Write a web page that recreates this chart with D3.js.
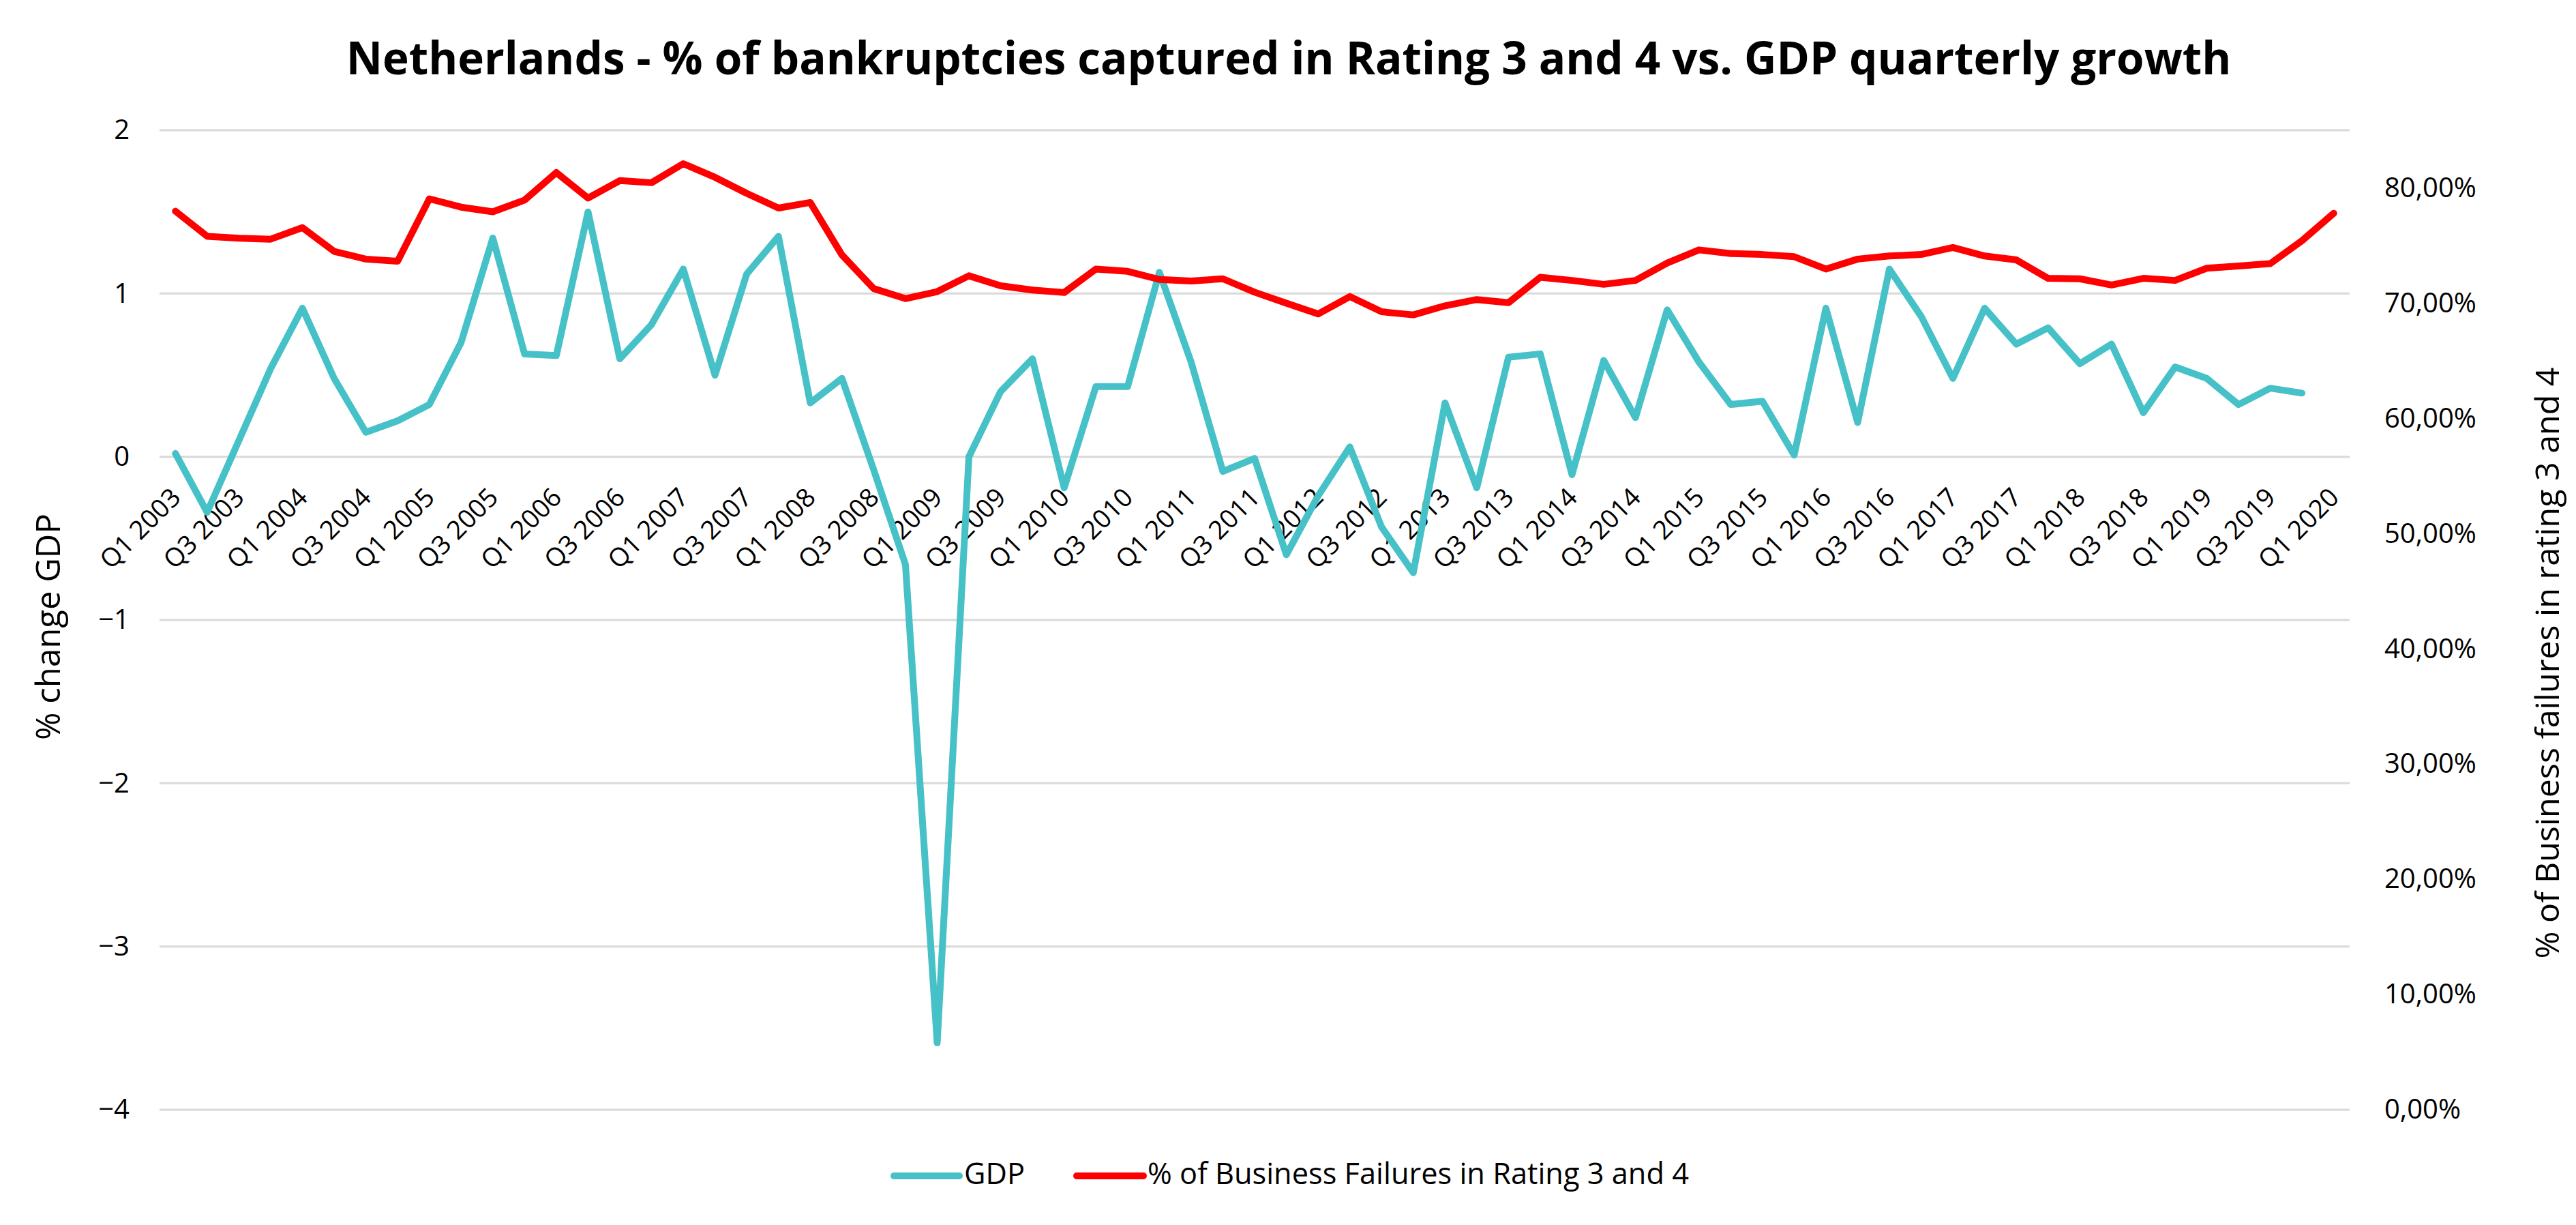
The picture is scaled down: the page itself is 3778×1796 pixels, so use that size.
<!DOCTYPE html>
<html>
<head>
<meta charset="utf-8">
<script src="https://cdn.jsdelivr.net/npm/d3@7"></script>
<style>
  html, body { margin: 0; padding: 0; background: #ffffff; }
  svg { display: block; }
  text { font-family: "Open Sans", "Noto Sans", sans-serif; fill: #000; }
</style>
</head>
<body>
<svg id="chart" width="3778" height="1796"></svg>
<script>
const categories = [
  "Q1 2003","Q2 2003","Q3 2003","Q4 2003","Q1 2004","Q2 2004","Q3 2004","Q4 2004",
  "Q1 2005","Q2 2005","Q3 2005","Q4 2005","Q1 2006","Q2 2006","Q3 2006","Q4 2006",
  "Q1 2007","Q2 2007","Q3 2007","Q4 2007","Q1 2008","Q2 2008","Q3 2008","Q4 2008",
  "Q1 2009","Q2 2009","Q3 2009","Q4 2009","Q1 2010","Q2 2010","Q3 2010","Q4 2010",
  "Q1 2011","Q2 2011","Q3 2011","Q4 2011","Q1 2012","Q2 2012","Q3 2012","Q4 2012",
  "Q1 2013","Q2 2013","Q3 2013","Q4 2013","Q1 2014","Q2 2014","Q3 2014","Q4 2014",
  "Q1 2015","Q2 2015","Q3 2015","Q4 2015","Q1 2016","Q2 2016","Q3 2016","Q4 2016",
  "Q1 2017","Q2 2017","Q3 2017","Q4 2017","Q1 2018","Q2 2018","Q3 2018","Q4 2018",
  "Q1 2019","Q2 2019","Q3 2019","Q4 2019","Q1 2020"
];

// GDP quarterly growth (%), Q1 2003 .. Q4 2019
const gdp = [
  0.02, -0.34, 0.10, 0.54, 0.91, 0.48, 0.15, 0.22,
  0.32, 0.70, 1.34, 0.63, 0.62, 1.50, 0.60, 0.81,
  1.15, 0.50, 1.12, 1.35, 0.33, 0.48, -0.08, -0.66,
  -3.59, 0.00, 0.40, 0.60, -0.19, 0.43, 0.43, 1.13,
  0.58, -0.09, -0.01, -0.60, -0.24, 0.06, -0.43, -0.71,
  0.33, -0.19, 0.61, 0.63, -0.11, 0.59, 0.24, 0.90,
  0.58, 0.32, 0.34, 0.01, 0.91, 0.21, 1.15, 0.86,
  0.48, 0.91, 0.69, 0.79, 0.57, 0.69, 0.27, 0.55,
  0.48, 0.32, 0.42, 0.39
];

// % of Business Failures in Rating 3 and 4 (%), Q1 2003 .. Q1 2020
const failures = [
  77.98, 75.80, 75.63, 75.55, 76.55, 74.49, 73.82, 73.64,
  79.05, 78.33, 77.93, 78.94, 81.33, 79.12, 80.63, 80.45,
  82.10, 80.92, 79.52, 78.25, 78.73, 74.18, 71.26, 70.39,
  71.00, 72.37, 71.50, 71.13, 70.92, 72.96, 72.76, 72.05,
  71.92, 72.11, 70.95, 70.00, 69.06, 70.57, 69.25, 68.98,
  69.77, 70.31, 70.04, 72.24, 71.97, 71.63, 71.97, 73.48,
  74.62, 74.30, 74.22, 74.03, 72.96, 73.82, 74.09, 74.22,
  74.83, 74.09, 73.75, 72.15, 72.11, 71.57, 72.15, 71.97,
  73.03, 73.22, 73.43, 75.42, 77.80
];

const leftTicks = [2, 1, 0, -1, -2, -3, -4];
const rightTicks = [0, 10, 20, 30, 40, 50, 60, 70, 80];
const titleText = "Netherlands - % of bankruptcies captured in Rating 3 and 4 vs. GDP quarterly growth";
const leftTitle = "% change GDP";
const rightTitle = "% of Business failures in rating 3 and 4";
const seriesNames = ["GDP", "% of Business Failures in Rating 3 and 4"];
const colors = ["#46C1C7", "#FF0000"];

const svg = d3.select("#chart");
const W = 3778, H = 1796;
const X0 = 234, X1 = 3446, YT = 191, YB = 1627;

const x = d3.scaleBand().domain(categories).range([X0, X1]).padding(0);
const cx = d => x(d) + x.bandwidth() / 2;
const yL = d3.scaleLinear().domain([-4, 2]).range([YB, YT]);
const yR = d3.scaleLinear().domain([0, 85]).range([YB, YT]);

function fitText(sel, target) {
  const fs = parseFloat(sel.attr("font-size"));
  const w = sel.node().getComputedTextLength();
  sel.attr("font-size", (fs * target / w).toFixed(2));
}

// Title
const t = svg.append("text")
  .attr("x", 1890).attr("y", 109)
  .attr("text-anchor", "middle")
  .attr("font-size", 64).attr("font-weight", 700)
  .text(titleText);
fitText(t, 2765);

// Gridlines
svg.append("g").selectAll("line").data(leftTicks).join("line")
  .attr("x1", X0).attr("x2", X1)
  .attr("y1", d => yL(d)).attr("y2", d => yL(d))
  .attr("stroke", "#D9D9D9").attr("stroke-width", 3);

// Left axis
const leftAxis = d3.axisLeft(yL).tickValues(leftTicks).tickSize(0).tickPadding(0)
  .tickFormat(d => d < 0 ? "\u2212" + Math.abs(d) : String(d));
const gl = svg.append("g").attr("transform", `translate(190,0)`).call(leftAxis);
gl.select(".domain").remove();
gl.selectAll("text").attr("font-size", 40).attr("font-family", "Open Sans").attr("fill", "#000");

// Right axis
const rightAxis = d3.axisRight(yR).tickValues(rightTicks).tickSize(0).tickPadding(0)
  .tickFormat(d => d3.format(".2f")(d).replace(".", ",") + "%");
const gr = svg.append("g").attr("transform", `translate(3497,0)`).call(rightAxis);
gr.select(".domain").remove();
gr.selectAll("text").attr("font-size", 40).attr("font-family", "Open Sans").attr("fill", "#000");

// Axis titles
const lt = svg.append("text")
  .attr("transform", `translate(88,919) rotate(-90)`)
  .attr("text-anchor", "middle").attr("font-size", 46)
  .text(leftTitle);
fitText(lt, 332);
const rt = svg.append("text")
  .attr("transform", `translate(3753,972) rotate(-90)`)
  .attr("text-anchor", "middle").attr("font-size", 46)
  .text(rightTitle);
fitText(rt, 867);

// X labels (every 2nd category)
const y0 = yL(0);
svg.append("g").selectAll("text")
  .data(categories.filter((d, i) => i % 2 === 0)).join("text")
  .attr("transform", d => `translate(${cx(d) + 10},${y0 + 62}) rotate(-45)`)
  .attr("text-anchor", "end")
  .attr("font-size", 38)
  .text(d => d);

// Lines
const lineL = d3.line().x((d, i) => cx(categories[i])).y(d => yL(d));
const lineR = d3.line().x((d, i) => cx(categories[i])).y(d => yR(d));

svg.append("path").datum(gdp)
  .attr("d", lineL).attr("fill", "none")
  .attr("stroke", colors[0]).attr("stroke-width", 10)
  .attr("stroke-linejoin", "round").attr("stroke-linecap", "round");

svg.append("path").datum(failures)
  .attr("d", lineR).attr("fill", "none")
  .attr("stroke", colors[1]).attr("stroke-width", 10)
  .attr("stroke-linejoin", "round").attr("stroke-linecap", "round");

// Legend
const legY = 1724;
const legend = [
  { x1: 1311, x2: 1407, tx: 1414 },
  { x1: 1579, x2: 1677, tx: 1683 }
];
const lg = svg.append("g");
lg.selectAll("line").data(legend).join("line")
  .attr("x1", d => d.x1).attr("x2", d => d.x2)
  .attr("y1", legY).attr("y2", legY)
  .attr("stroke", (d, i) => colors[i]).attr("stroke-width", 10)
  .attr("stroke-linecap", "round");
const lts = lg.selectAll("text").data(legend).join("text")
  .attr("x", d => d.tx).attr("y", 1736)
  .attr("font-size", 40)
  .text((d, i) => seriesNames[i]);
const lt2 = d3.select(lts.nodes()[1]);
fitText(lt2, 794);
d3.select(lts.nodes()[0]).attr("font-size", lt2.attr("font-size"));
</script>
</body>
</html>
